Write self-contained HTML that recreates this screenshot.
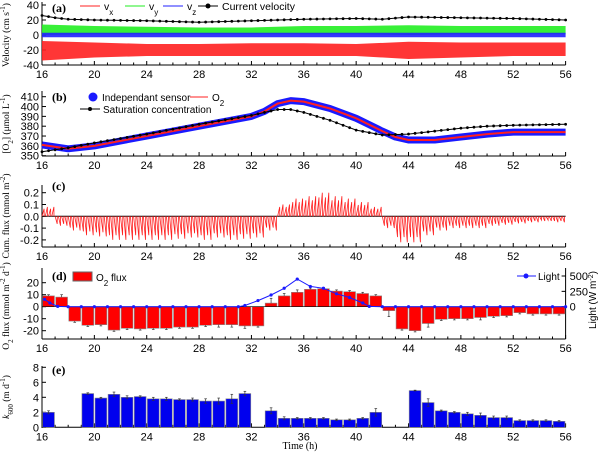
<!DOCTYPE html>
<html><head><meta charset="utf-8"><style>
body{margin:0;background:#fff}
svg{display:block;font-family:"Liberation Sans",Arial,sans-serif}
.tl{font-size:11px}
.ser{font-family:"Liberation Serif",serif}
</style></head><body>
<svg id="fig" width="600" height="452" viewBox="0 0 600 452"></svg>
<script>
// ---------- data ----------
const hours = [16,17,18,19,20,21,22,23,24,25,26,27,28,29,30,31,32,33,34,35,36,37,38,39,40,41,42,43,44,45,46,47,48,49,50,51,52,53,54,55];
const o2Flux = [9,8,-12,-15.5,-15,-19.5,-18,-18.5,-18,-18,-17,-17,-15.5,-15,-15,-16,-16,3,9,12,14.5,15,13,12.5,11,9,-3.3,-18.5,-20,-14,-10.5,-10,-10,-9,-8,-7.5,-5,-6,-6,-6];
const o2FluxErr = [1,2,1,1,1,1,1,1,1,1,1,1,1,2,2,2,1,4,2,2,1,1,1,1,1,1,5,1,1,3,1,1,1,2,1,1,1,1,1,1];
const lightT = [16.2,16.6,17.2,18,19,20,21,22,23,24,25,26,27,28,29,30,31,31.5,32.5,33.5,34.5,35.5,36.5,37.5,38.5,39.5,40.5,41,42,43,44,45,46,47,48,49,50,51,52,53,54,55,56];
const lightV = [120,60,5,0,0,0,0,0,0,0,0,0,0,0,0,0,0,20,100,190,300,450,330,300,210,150,60,5,0,0,0,0,0,0,0,0,0,0,0,0,0,0,0];
const k600 = [2,null,null,4.5,3.9,4.4,4.0,4.1,3.8,3.8,3.7,3.7,3.5,3.5,3.8,4.5,null,2.2,1.2,1.2,1.2,1.2,1.0,1.0,1.2,2.0,null,null,4.9,3.3,2.2,2.0,1.8,1.6,1.3,1.3,0.9,0.9,0.9,0.8];
const k600Err = [0.2,0,0,0.1,0.1,0.3,0.2,0.1,0.2,0.2,0.1,0.2,0.3,0.4,0.6,0.3,0,0.4,0.2,0.1,0.1,0.1,0.1,0.1,0.1,0.5,0,0,0.05,0.5,0.1,0.1,0.2,0.3,0.2,0.2,0.1,0.1,0.1,0.1];
const bT = [16,18,20,24,28,32,33,34,35,36,38,40,42,43,44,46,48,50,52,56];
const o2Conc = [361,357,360,370,380,390,395,403,406,405,398,388,375,369,366,366,369,372,374,374];
const satT = [16,18,20,24,28,32,34,35,36,38,40,42,44,46,48,50,52,56];
const satConc = [354,358,363,372,382,391,397,397,394,386,376,371,372,375,378,380,381,382];
const velT = [16,17,18,20,24,28,32,36,40,42,44,48,52,56];
const curVel = [26,23,21,20,19,17,19,21,22,21,24,23,22,20];
const bandT = [16,20,24,28,32,36,40,44,48,52,56];
const vxHi = [-8,-10,-12,-12,-11,-11,-12,-9,-10,-10,-10];
const vxLo = [-34,-30,-28,-28,-28,-28,-28,-32,-30,-28,-28];
const vyHi = [14,12,11,10,10,12,12,13,12,12,12];
const vyLo = [0,1,1,1,1,1,1,0,1,1,1];
const vzHi = [3,3,3,3,3,3,3,3,3,3,3];
const vzLo = [-3,-3,-3,-3,-3,-3,-3,-3,-3,-3,-3];
const cumAmp = [0.08,-0.08,-0.12,-0.16,-0.17,-0.2,-0.2,-0.2,-0.2,-0.2,-0.19,-0.18,-0.2,-0.18,-0.2,-0.19,-0.18,-0.12,0.1,0.15,0.17,0.2,0.17,0.15,0.12,0.08,-0.1,-0.22,-0.22,-0.16,-0.12,-0.1,-0.1,-0.1,-0.08,-0.07,-0.06,-0.05,-0.04,-0.05];

// ---------- helpers ----------
const NS="http://www.w3.org/2000/svg", svg=document.getElementById('fig');
function el(tag,attrs,parent,text){const e=document.createElementNS(NS,tag);for(const k in attrs)e.setAttribute(k,attrs[k]);if(text!==undefined)e.textContent=text;(parent||svg).appendChild(e);return e;}
const X=t=>42+(t-16)*13.09;
function lin(v0,p0,v1,p1){return v=>p0+(v-v0)*(p1-p0)/(v1-v0);}
const Ya=lin(0,35,40,5), Yb=lin(350,155.7,410,96.7), Yc=lin(0,216.3,0.2,192.7), Yd=lin(0,306.7,20,282.7), Yl=lin(0,306.7,500,276), Ye=lin(0,427.3,8,367.3);
function xAxis(yb,name){
  const g=el('g',{},svg);
  
  
  el('line',{x1:X(16),x2:X(56),y1:yb,y2:yb,stroke:'#000','stroke-width':1},g);
  for(let t=16;t<=56;t++){const maj=t%4===0;el('line',{x1:X(t),x2:X(t),y1:yb,y2:yb-(maj?4:2.5),stroke:'#000'},g);
    if(maj)el('text',{x:X(t),y:yb+13,'text-anchor':'middle',class:'tl'},g,String(t));}
}
function yAxis(scale,ticks,top,bot,name,x,right,labels){
  const g=el('g',{},svg);
  
  
  x=x||X(16);
  el('line',{x1:x,x2:x,y1:top,y2:bot,stroke:'#000'},g);
  ticks.forEach((v,i)=>{const y=scale(v);el('line',{x1:x,x2:x+(right?-4:4),y1:y,y2:y,stroke:'#000'},g);
    el('text',{x:right?x+4:x-3,y:y+4,'text-anchor':right?'start':'end',class:'tl','font-size':right?'10':'11'},g,labels?labels[i]:String(v));});
}
function path(pts){return pts.map((p,i)=>(i?'L':'M')+p[0].toFixed(1)+','+p[1].toFixed(1)).join('');}
function ytitle(x,y,html,name){const t=el('text',{x:0,y:0,transform:`translate(${x},${y}) rotate(-90)`,'text-anchor':'middle','font-size':'9.5',class:'ser'});t.innerHTML=html;return t;}
function label(x,y,s,name){const t=el('text',{x:x,y:y,'font-size':'12','font-weight':'bold',class:'ser'},svg,s);}

// ---------- panel a ----------
yAxis(Ya,[40,20,0,-20,-40],2,65,'velocity-y-axis');
xAxis(65,'panel-a-x-axis');
function band(hi,lo,col,name){const pts=bandT.map((t,i)=>[X(t),Ya(hi[i])]).concat(bandT.map((t,i)=>[X(t),Ya(lo[i])]).reverse());const p=el('path',{d:path(pts)+'Z',fill:col,opacity:0.9});}
band(vxHi,vxLo,'#ff2020','vx-band');band(vyHi,vyLo,'#22ee22','vy-band');band(vzHi,vzLo,'#2020ff','vz-band');
{const p=el('path',{d:path(velT.map((t,i)=>[X(t),Ya(curVel[i])])),fill:'none',stroke:'#000','stroke-width':1});
 for(let t=16;t<=56;t+=0.5){let i=0;while(i<velT.length-2&&velT[i+1]<t)i++;const v=curVel[i]+(curVel[i+1]-curVel[i])*(t-velT[i])/(velT[i+1]-velT[i]);const c=el('circle',{cx:X(t),cy:Ya(v),r:1.4,fill:'#000'});}}
label(52,12,'(a)','panel-a-label');
ytitle(9,35,'Velocity (cm s<tspan baseline-shift="super" font-size="7">-1</tspan>)','velocity-y-title');
{const g=el('g',{'font-size':'10.5'});
 [['#ff2020',80,'x'],['#22ee22',125,'y'],['#2020ff',163,'z']].forEach(a=>{el('line',{x1:a[1],x2:a[1]+20,y1:6,y2:6,stroke:a[0]},g);const t=el('text',{x:a[1]+24,y:10},g);t.innerHTML='v<tspan baseline-shift="sub" font-size="8">'+a[2]+'</tspan>';});
 el('line',{x1:198,x2:218,y1:6,y2:6,stroke:'#000'},g);el('circle',{cx:208,cy:6,r:2.5},g);el('text',{x:222,y:10},g,'Current velocity');}

// ---------- panel b ----------
yAxis(Yb,[410,400,390,380,370,360,350],91,156,'o2-y-axis');
xAxis(156,'panel-b-x-axis');
{const p=el('path',{d:path(bT.map((t,i)=>[X(t),Yb(o2Conc[i])])),fill:'none',stroke:'#1a1aff','stroke-width':7,'stroke-linejoin':'round'});
 const q=el('path',{d:path(bT.map((t,i)=>[X(t),Yb(o2Conc[i])])),fill:'none',stroke:'#ff2020','stroke-width':2});
 const s=el('path',{d:path(satT.map((t,i)=>[X(t),Yb(satConc[i])])),fill:'none',stroke:'#000','stroke-width':1});
 for(let t=16;t<=56;t+=0.5){let i=0;while(i<satT.length-2&&satT[i+1]<t)i++;const v=satConc[i]+(satConc[i+1]-satConc[i])*(t-satT[i])/(satT[i+1]-satT[i]);const c=el('circle',{cx:X(t),cy:Yb(v),r:1.4,fill:'#000'});}}
label(52,101,'(b)','panel-b-label');
ytitle(9,124,'[O<tspan baseline-shift="sub" font-size="7">2</tspan>] (μmol L<tspan baseline-shift="super" font-size="7">-1</tspan>)','o2-y-title');
{const g=el('g',{'font-size':'10'});
 el('circle',{cx:93,cy:97,r:4.5,fill:'#1a1aff'},g);el('text',{x:102,y:101},g,'Independant sensor');
 el('line',{x1:190,x2:208,y1:97,y2:97,stroke:'#ff2020'},g);const t=el('text',{x:212,y:101},g);t.innerHTML='O<tspan baseline-shift="sub" font-size="8">2</tspan>';
 el('line',{x1:80,x2:100,y1:109,y2:109,stroke:'#000'},g);el('circle',{cx:90,cy:109,r:2},g);el('text',{x:103,y:113},g,'Saturation concentration');}

// ---------- panel c ----------
yAxis(Yc,[0.2,0.1,0,-0.1,-0.2],185,247,'cum-flux-y-axis',null,false,['0.2','0.1','0.0','-0.1','-0.2']);
xAxis(247,'panel-c-x-axis');
el('line',{x1:X(16),x2:X(56),y1:Yc(0),y2:Yc(0),stroke:'#000'});
hours.forEach((h,i)=>{for(let k=0;k<4;k++){const t0=h+k/4;const a=cumAmp[i]*(0.8+0.2*(k%2));const l=el('path',{d:path([[X(t0),Yc(0)],[X(t0+0.16),Yc(a)],[X(t0+0.17),Yc(0)]]),fill:'none',stroke:'#ff2020','stroke-width':0.8});}});
label(52,190,'(c)','panel-c-label');
ytitle(9,216,'Cum. flux (mmol m<tspan baseline-shift="super" font-size="7">-2</tspan>)','cum-flux-y-title');

// ---------- panel d ----------
yAxis(Yd,[20,10,0,-10,-20],268,339,'o2-flux-y-axis');
yAxis(Yl,[500,250,0],268,339,'light-y-axis',X(56),true);
xAxis(339,'panel-d-x-axis');
hours.forEach((h,i)=>{const v=o2Flux[i],y0=Yd(0),y1=Yd(v);const r=el('rect',{x:X(h+0.05),y:Math.min(y0,y1),width:X(h+0.95)-X(h+0.05),height:Math.abs(y1-y0),fill:'#ff0000',stroke:'#888','stroke-width':0.6});
 const ye=Yd(v+Math.sign(v||1)*o2FluxErr[i]);el('line',{x1:X(h+0.5),x2:X(h+0.5),y1:y1,y2:ye,stroke:'#333','stroke-width':0.7});el('line',{x1:X(h+0.4),x2:X(h+0.6),y1:ye,y2:ye,stroke:'#333','stroke-width':0.7});});
el('line',{x1:X(16),x2:X(56),y1:Yd(0),y2:Yd(0),stroke:'#000','stroke-width':0.7});
{const p=el('path',{d:path(lightT.map((t,i)=>[X(t),Yl(lightV[i])])),fill:'none',stroke:'#1a1aff','stroke-width':1});
 lightT.forEach((t,i)=>{const c=el('circle',{cx:X(t),cy:Yl(lightV[i]),r:1.6,fill:'#1a1aff'});});}
label(52,280,'(d)','panel-d-label');
ytitle(9,306,'O<tspan baseline-shift="sub" font-size="7">2</tspan> flux (mmol m<tspan baseline-shift="super" font-size="7">-2</tspan> d<tspan baseline-shift="super" font-size="7">-1</tspan>)','o2-flux-y-title');
{const t=el('text',{x:0,y:0,transform:'translate(596,300) rotate(-90)','text-anchor':'middle','font-size':'10'});t.innerHTML='Light (W m<tspan baseline-shift="super" font-size="7">-2</tspan>)';}
{const g=el('g',{'font-size':'10'});
 el('rect',{x:73,y:272,width:19,height:9,fill:'#ff0000',stroke:'#666'},g);const t=el('text',{x:96,y:281},g);t.innerHTML='O<tspan baseline-shift="sub" font-size="8">2</tspan> flux';
 el('line',{x1:517,x2:536,y1:276,y2:276,stroke:'#1a1aff'},g);el('circle',{cx:526,cy:276,r:2.5,fill:'#1a1aff'},g);el('text',{x:538,y:280},g,'Light');}

// ---------- panel e ----------
yAxis(Ye,[8,6,4,2,0],366,428,'k600-y-axis');
xAxis(427.3,'panel-e-x-axis');
hours.forEach((h,i)=>{const v=k600[i];if(v===null)return;const r=el('rect',{x:X(h+0.05),y:Ye(v),width:X(h+0.95)-X(h+0.05),height:Ye(0)-Ye(v),fill:'#0000ee',stroke:'#888','stroke-width':0.6});
 const e=k600Err[i];el('line',{x1:X(h+0.5),x2:X(h+0.5),y1:Ye(v-e),y2:Ye(v+e),stroke:'#333','stroke-width':0.7});[v-e,v+e].forEach(w=>el('line',{x1:X(h+0.4),x2:X(h+0.6),y1:Ye(w),y2:Ye(w),stroke:'#333','stroke-width':0.7}));});
label(52,374,'(e)','panel-e-label');
ytitle(9,397,'<tspan font-style="italic">k</tspan><tspan baseline-shift="sub" font-size="7">600</tspan> (m d<tspan baseline-shift="super" font-size="7">-1</tspan>)','k600-y-title');
{const t=el('text',{x:300,y:449,'text-anchor':'middle','font-size':'10',class:'ser'},svg,'Time (h)');}
</script>
</body></html>
